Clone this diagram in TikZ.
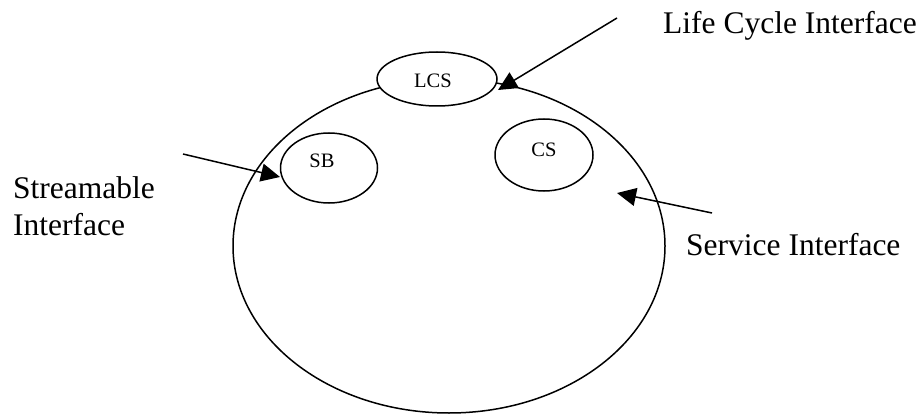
\documentclass[tikz,border=0pt]{standalone}
\usepackage{fontspec}
\setmainfont{Liberation Serif}
\usetikzlibrary{shapes.geometric,arrows.meta}
\begin{document}
\begin{tikzpicture}[x=1pt,y=-1pt,
  outline/.style={draw, line width=1.5pt, ellipse, inner sep=0pt},
  part/.style={outline, fill=white},
  pointer/.style={line width=1.5pt, -{Triangle[length=19pt,width=18pt]}},
  caption/.style={anchor=base west, inner sep=0pt, font=\fontsize{31.5}{37}\selectfont},
  tag/.style={anchor=base, inner sep=0pt, font=\fontsize{20.5}{24}\selectfont}]
\useasboundingbox (0,0) rectangle (923,414);

% the component and its three parts
\node[outline, minimum width=432pt, minimum height=334pt] (comp) at (449,246) {};
\node[part, minimum width=97pt, minimum height=70pt] (sb) at (329,168) {};
\node[part, minimum width=98pt, minimum height=72pt] (cs) at (544,155) {};
\node[part, minimum width=120pt, minimum height=54pt] (lcs) at (437,79) {};

\node[tag] (sbtext) at (322,168) {SB};
\node[tag] (cstext) at (544,157) {CS};
\node[tag] (lcstext) at (433,88) {LCS};

% interface labels
\node[caption] (lifecycle) at (663,34) {Life Cycle Interface};
\node[caption] (stream1) at (13,198) {Streamable};
\node[caption] (stream2) at (13,235) {Interface};
\node[caption] (service) at (686,255) {Service Interface};

% pointers to the interfaces
\coordinate (lcsfrom) at (617,18);
\coordinate (lcsto) at (498,90);
\coordinate (sbfrom) at (183,154);
\coordinate (sbto) at (280,177);
\coordinate (csfrom) at (712,213);
\coordinate (csto) at (617,193);

\draw[pointer] (lcsfrom) -- (lcsto);
\draw[pointer] (sbfrom) -- (sbto);
\draw[pointer] (csfrom) -- (csto);
\end{tikzpicture}
\end{document}
